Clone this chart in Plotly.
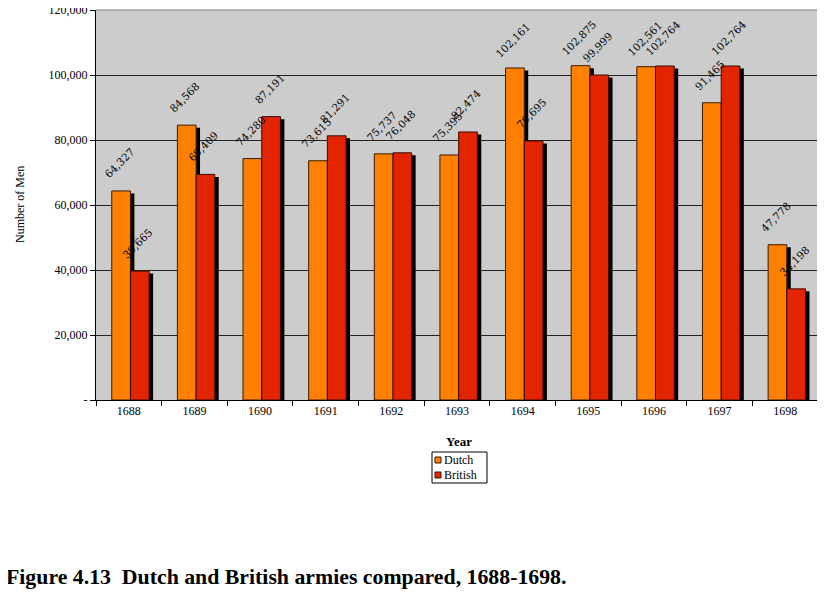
import plotly.graph_objects as go

years = ["1688", "1689", "1690", "1691", "1692", "1693", "1694", "1695", "1696", "1697", "1698"]
dutch = [64327, 84568, 74280, 73615, 75737, 75395, 102161, 102875, 102561, 91465, 47778]
british = [39665, 69409, 87191, 81291, 76048, 82474, 79695, 99999, 102764, 102764, 34198]
y_ticks = [0, 20000, 40000, 60000, 80000, 100000, 120000]
y_ticktext = ["-", "20,000", "40,000", "60,000", "80,000", "100,000", "120,000"]
series_names = ["Dutch", "British"]

SERIF = "Liberation Serif, DejaVu Serif, serif"
LBL_FONT = "DejaVu Serif, serif"
DUTCH_C = "#FF8000"
BRIT_C = "#E22400"
W = 0.285
D_OFF = -0.26
B_OFF = 0.025
SH = 0.06

# page has an 8px body margin: figure coordinates = reference pixels - 8
OFF = 8
FW, FH = 825 - OFF, 593 - OFF
PL, PT, PW, PH = 96 - OFF, 10 - OFF, 722, 390
YMAX = 120000
shadow_drop = YMAX / PH * 2.5
CAT_PX = PW / len(years)


def px(x):
    return (x - OFF - PL) / PW


def py(y):
    return (PT + PH - (y - OFF)) / PH


fig = go.Figure()
# drop shadows (main axes, range nudged so they sit slightly lower)
fig.add_trace(go.Bar(x=years, y=dutch, offset=D_OFF + SH, width=W, xaxis="x", yaxis="y",
                     marker=dict(color="black", line=dict(width=0)), hoverinfo="skip"))
fig.add_trace(go.Bar(x=years, y=british, offset=B_OFF + SH, width=W, xaxis="x", yaxis="y",
                     marker=dict(color="black", line=dict(width=0)), hoverinfo="skip"))
# bars
fig.add_trace(go.Bar(x=years, y=dutch, name=series_names[0], offset=D_OFF, width=W, yaxis="y2",
                     marker=dict(color=DUTCH_C, line=dict(color="#3a1a00", width=1))))
fig.add_trace(go.Bar(x=years, y=british, name=series_names[1], offset=B_OFF, width=W, yaxis="y2",
                     marker=dict(color=BRIT_C, line=dict(color="#3a0a00", width=1))))

LX0, LX1, LY0, LY1 = 432, 487, 452, 483  # reference pixels

shapes = [
    dict(type="line", xref="paper", yref="paper", x0=0, x1=1, y0=1, y1=1,
         line=dict(color="#808080", width=1)),
    dict(type="line", xref="paper", yref="paper", x0=1, x1=1, y0=0, y1=1,
         line=dict(color="#808080", width=1)),
    dict(type="rect", xref="paper", yref="paper", x0=px(LX0), x1=px(LX1), y0=py(LY1), y1=py(LY0),
         line=dict(color="black", width=1), fillcolor="white", layer="above"),
]
annotations = [
    dict(text="<b>Year</b>", xref="paper", yref="paper", x=px(459), y=py(441),
         xanchor="center", yanchor="middle", showarrow=False,
         font=dict(family=SERIF, size=13)),
    dict(text="<b>Figure 4.13  Dutch and British armies compared, 1688-1698.</b>",
         xref="paper", yref="paper", x=px(4), y=py(577), xanchor="left", yanchor="middle",
         showarrow=False, font=dict(family=SERIF, size=21.8)),
    dict(text="Number of Men", xref="paper", yref="paper", x=px(20), y=0.5, textangle=-90,
         xanchor="center", yanchor="middle", showarrow=False, font=dict(family=SERIF, size=12)),
]
# rotated value labels above each bar (x given as category index)
for vals, off in ((dutch, D_OFF), (british, B_OFF)):
    for i, v in enumerate(vals):
        annotations.append(dict(text=f"{v:,}", x=i + off + W / 2, y=v, xref="x", yref="y2",
                                xshift=-2, yshift=28, textangle=-45,
                                xanchor="center", yanchor="middle", showarrow=False,
                                font=dict(family=LBL_FONT, size=10.5, color="black")))

for i, (nm, col) in enumerate(zip(series_names, [DUTCH_C, BRIT_C])):
    cy = 460 + i * 15
    shapes.append(dict(type="rect", xref="paper", yref="paper", x0=px(435), x1=px(441),
                       y0=py(cy + 3), y1=py(cy - 3), fillcolor=col,
                       line=dict(color="#3a1a00", width=1), layer="above"))
    annotations.append(dict(text=nm, xref="paper", yref="paper", x=px(442), y=py(cy),
                            xanchor="left", yanchor="middle", showarrow=False,
                            font=dict(family=SERIF, size=12)))

fig.update_layout(
    width=FW, height=FH,
    barmode="overlay",
    paper_bgcolor="white",
    plot_bgcolor="#CCCCCC",
    margin=dict(l=PL, r=FW - PL - PW, t=PT, b=FH - PT - PH, pad=0),
    font=dict(family=SERIF, size=12, color="black"),
    showlegend=False,
    xaxis=dict(type="category", categoryarray=years, range=[-0.5, len(years) - 0.5],
               tickson="boundaries", ticks="outside", ticklen=5,
               tickcolor="black", showline=True, linecolor="black", linewidth=1,
               tickfont=dict(family=SERIF, size=12), showgrid=False, automargin=False),
    yaxis=dict(range=[shadow_drop, YMAX + shadow_drop], showticklabels=False, ticks="",
               showgrid=False, zeroline=False, showline=False, automargin=False),
    yaxis2=dict(overlaying="y", side="left", range=[0, YMAX], tickvals=y_ticks, ticktext=y_ticktext,
                ticks="outside", ticklen=5, tickcolor="black",
                showline=True, linecolor="black", linewidth=1,
                showgrid=True, gridcolor="#222222", gridwidth=1, zeroline=False,
                ticklabeloverflow="allow",
                tickfont=dict(family=SERIF, size=12), automargin=False),
    annotations=annotations,
    shapes=shapes,
)

fig.write_html("out.html")
